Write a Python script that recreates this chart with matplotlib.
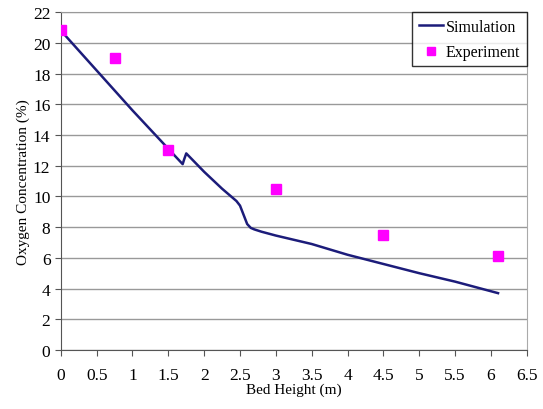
import matplotlib.pyplot as plt

# simulation curve (bed height m, O2 %)
sim_x = [0.0, 0.5, 1.0, 1.5, 1.7, 1.72, 1.75, 2.0, 2.25, 2.45, 2.5, 2.55, 2.6, 2.65, 2.7, 2.8, 3.0, 3.5, 4.0, 4.5, 5.0, 5.5, 6.1]
sim_y = [20.8, 18.2, 15.6, 13.1, 12.1, 12.4, 12.8, 11.6, 10.5, 9.7, 9.4, 8.8, 8.2, 7.95, 7.85, 7.7, 7.45, 6.9, 6.2, 5.6, 5.0, 4.45, 3.7]

# experiment points
exp_x = [0.0, 0.75, 1.5, 3.0, 4.5, 6.1]
exp_y = [20.85, 19.0, 13.0, 10.5, 7.5, 6.1]

plt.rcParams['font.family'] = ['Liberation Serif', 'DejaVu Serif']

fig = plt.figure(figsize=(5.43, 4.10), dpi=100)
ax = fig.add_axes([0.112, 0.144, 0.858, 0.824])

ax.plot(sim_x, sim_y, color='#1c1c7a', lw=1.8, label='Simulation', zorder=3)
ax.plot(exp_x, exp_y, ls='none', marker='s', ms=7, color='#ff00ff', label='Experiment', zorder=4)

ax.set_xlim(0, 6.5)
ax.set_ylim(0, 22)
ax.set_xticks([i * 0.5 for i in range(14)])
ax.set_xticklabels(['0', '0.5', '1', '1.5', '2', '2.5', '3', '3.5', '4', '4.5', '5', '5.5', '6', '6.5'])
ax.set_yticks(range(0, 23, 2))
ax.tick_params(axis='both', labelsize=12.5, direction='out', length=4, color='#555555')
ax.tick_params(axis='x', pad=8)
ax.yaxis.grid(True, color='#999999', lw=1)
ax.set_axisbelow(True)

for s in ['left', 'bottom']:
    ax.spines[s].set_color('#555555')
ax.spines['right'].set_color('#aaaaaa')
ax.spines['top'].set_color('#999999')

ax.set_xlabel('Bed Height (m)', fontsize=11, labelpad=0)
ax.set_ylabel('Oxygen Concentration (%)', fontsize=11, labelpad=2)

leg = ax.legend(loc='upper right', fontsize=11.5, frameon=True, fancybox=False,
                borderaxespad=0, handlelength=1.5, handletextpad=0.2, borderpad=0.4,
                labelspacing=0.6, markerscale=0.8)
leg.get_frame().set_edgecolor('black')
leg.get_frame().set_linewidth(1)

fig.savefig('out.png', dpi=100)
